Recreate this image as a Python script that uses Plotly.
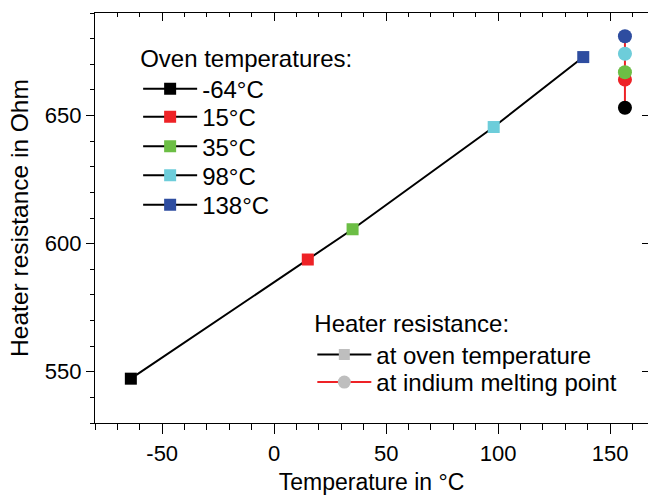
import plotly.graph_objects as go

# Oven temperatures (°C) and heater resistance at oven temperature (Ohm)
oven_temps = [-64, 15, 35, 98, 138]
oven_labels = ["-64°C", "15°C", "35°C", "98°C", "138°C"]
r_oven = [547.3, 593.8, 605.6, 645.5, 672.8]

# Heater resistance at indium melting point (Ohm), one per oven temperature
indium_T = 156.6
r_indium = [653.0, 664.0, 666.9, 674.1, 680.9]

# Axis tick labels
x_tickvals = [-50, 0, 50, 100, 150]
x_ticktext = ["-50", "0", "50", "100", "150"]

colors = ["#000000", "#EE2226", "#6CBE45", "#6DCDDA", "#2E4DA0"]

FONT = "Liberation Sans, Arial, sans-serif"
PLOT_TOP, PLOT_BOTTOM = 13, 422.5   # pixel extent of plot area


def py2paper(py):
    return (PLOT_BOTTOM - py) / (PLOT_BOTTOM - PLOT_TOP)


fig = go.Figure()

# Black line through oven points (legend: at oven temperature)
fig.add_trace(go.Scatter(
    x=oven_temps, y=r_oven, mode="lines+markers",
    line=dict(color="black", width=2),
    marker=dict(symbol="square", size=11, color="#BEBEBE", line=dict(width=0)),
    name="at oven temperature", legend="legend2",
))

# Red line through indium points (legend: at indium melting point)
fig.add_trace(go.Scatter(
    x=[indium_T] * len(r_indium), y=sorted(r_indium), mode="lines+markers",
    line=dict(color="#EE2226", width=2),
    marker=dict(symbol="circle", size=13, color="#BEBEBE", line=dict(width=0)),
    name="at indium melting point", legend="legend7",
))

# Colored oven-temperature squares (each in its own legend box for exact spacing)
oven_legends = ["legend", "legend3", "legend4", "legend5", "legend6"]
for i, (t, r, lab, c) in enumerate(zip(oven_temps, r_oven, oven_labels, colors)):
    fig.add_trace(go.Scatter(
        x=[t], y=[r], mode="lines+markers",
        line=dict(color="black", width=2),
        marker=dict(symbol="square", size=12, color=c, line=dict(width=0)),
        name=lab, legend=oven_legends[i],
    ))

# Colored indium circles
for i in range(len(r_indium)):
    fig.add_trace(go.Scatter(
        x=[indium_T], y=[r_indium[i]], mode="markers",
        marker=dict(symbol="circle", size=14, color=colors[i], line=dict(width=0)),
        showlegend=False,
    ))

# Empty trace so the mirrored (top / right) axes are drawn
fig.add_trace(go.Scatter(x=[], y=[], xaxis="x2", yaxis="y2", showlegend=False,
                         hoverinfo="skip"))

xr = [-80, 166.9]
yr = [530, 690]
axis_common = dict(showgrid=False, zeroline=False, linecolor="black", linewidth=1.3,
                   tickcolor="black", tickwidth=1.3)

leg_common = dict(xanchor="left", bgcolor="rgba(0,0,0,0)", font=dict(size=24),
                  itemwidth=54, traceorder="normal")

layout_legends = dict(
    legend=dict(x=0.078, y=0.945, yanchor="top",
                title=dict(text="Oven temperatures:", font=dict(size=24)), **leg_common),
    legend2=dict(x=0.393, y=0.297, yanchor="top",
                 title=dict(text="Heater resistance:", font=dict(size=24)), **leg_common),
    legend7=dict(x=0.393, y=py2paper(382), yanchor="middle", **leg_common),
)
for k, py in zip(["legend3", "legend4", "legend5", "legend6"], [117, 146.5, 175.5, 205]):
    layout_legends[k] = dict(x=0.078, y=py2paper(py), yanchor="middle", **leg_common)

fig.update_layout(
    width=648, height=495,
    margin=dict(l=95, r=0, t=13, b=72),
    paper_bgcolor="white", plot_bgcolor="white",
    font=dict(family=FONT, size=22, color="black"),
    xaxis=dict(range=xr, showline=True, ticks="outside", ticklen=10,
               tickvals=x_tickvals, ticktext=x_ticktext,
               minor=dict(dtick=10, tick0=0, ticks="outside", ticklen=6,
                          tickcolor="black", tickwidth=1.3),
               tickfont=dict(size=22),
               title=dict(text="Temperature in °C", font=dict(size=23), standoff=14),
               **axis_common),
    yaxis=dict(range=yr, showline=True, ticks="outside", ticklen=8, dtick=50, tick0=0,
               minor=dict(dtick=10, ticks="outside", ticklen=4, tickcolor="black", tickwidth=1.3),
               tickfont=dict(size=22),
               title=dict(text="Heater resistance in Ohm", font=dict(size=24.5), standoff=9),
               **axis_common),
    xaxis2=dict(range=xr, overlaying="x", side="top", anchor="y2", showline=True,
                ticks="inside", ticklen=8, dtick=50, tick0=0, showticklabels=False,
                minor=dict(dtick=10, ticks="inside", ticklen=4, tickcolor="black", tickwidth=1.3),
                **axis_common),
    yaxis2=dict(range=yr, overlaying="y", side="right", anchor="x2", showline=False,
                ticks="inside", ticklen=6, dtick=50, tick0=0, showticklabels=False,
                **axis_common),
    showlegend=True,
    **layout_legends,
)

fig.write_html("out.html")
